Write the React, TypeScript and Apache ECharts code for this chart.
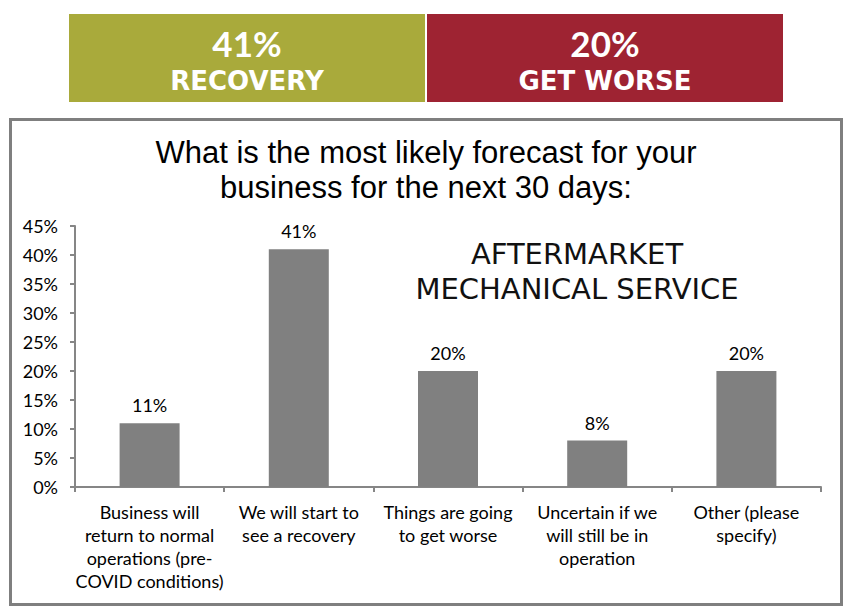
import React, { useEffect, useRef } from "react";
import * as echarts from "echarts";

const categories = [
  "Business will\nreturn to normal\noperations (pre-\nCOVID conditions)",
  "We will start to\nsee a recovery",
  "Things are going\nto get worse",
  "Uncertain if we\nwill still be in\noperation",
  "Other (please\nspecify)",
];
const values = [11, 41, 20, 8, 20];
const yTicks = { min: 0, max: 45, interval: 5 };
const titleLines = ["What is the most likely forecast for your", "business for the next 30 days:"];
const subtitleLines = ["AFTERMARKET", "MECHANICAL SERVICE"];
const banners = [
  { value: "41%", label: "RECOVERY", color: "#A9AA3B" },
  { value: "20%", label: "GET WORSE", color: "#9E2332" },
];

export default function App() {
  const ref = useRef<HTMLDivElement>(null);
  useEffect(() => {
    if (!ref.current) return;
    const chart = echarts.init(ref.current, undefined, { renderer: "svg" });
    const bannerGraphics: any[] = [];
    banners.forEach((b, i) => {
      const x = 69 + i * 358;
      bannerGraphics.push({
        type: "rect",
        shape: { x, y: 14, width: 356, height: 88 },
        style: { fill: b.color },
      });
      bannerGraphics.push({
        type: "text",
        x: x + 178,
        y: 43,
        style: {
          text: b.value,
          fill: "#fff",
          font: "bold 35px Lato",
          textAlign: "center",
          textVerticalAlign: "middle",
        },
      });
      bannerGraphics.push({
        type: "text",
        x: x + 178,
        y: 81,
        style: {
          text: b.label,
          fill: "#fff",
          font: "bold 26px 'DejaVu Sans'",
          textAlign: "center",
          textVerticalAlign: "middle",
        },
      });
    });
    chart.setOption({
      animation: false,
      backgroundColor: "#ffffff",
      grid: { left: 75, right: 41, top: 226, bottom: 126 },
      xAxis: {
        type: "category",
        data: categories,
        axisLine: { lineStyle: { color: "#868686", width: 2 } },
        axisTick: { show: true, length: 5, lineStyle: { color: "#868686", width: 2 } },
        axisLabel: {
          color: "#000",
          fontFamily: "Lato",
          fontSize: 18,
          lineHeight: 23,
          margin: 13,
          interval: 0,
        },
      },
      yAxis: {
        type: "value",
        min: yTicks.min,
        max: yTicks.max,
        interval: yTicks.interval,
        splitLine: { show: false },
        axisLine: { show: true, lineStyle: { color: "#868686", width: 2 } },
        axisTick: { show: true, length: 5, lineStyle: { color: "#868686", width: 2 } },
        axisLabel: {
          formatter: "{value}%",
          color: "#000",
          fontFamily: "Lato",
          fontSize: 18,
          margin: 17,
        },
      },
      series: [
        {
          type: "bar",
          data: values,
          barWidth: 60,
          itemStyle: { color: "#808080" },
          label: {
            show: true,
            position: "top",
            distance: 9,
            formatter: "{c}%",
            color: "#000",
            fontFamily: "Lato",
            fontSize: 18,
          },
        },
      ],
      graphic: [
        ...bannerGraphics,
        {
          type: "rect",
          shape: { x: 10.5, y: 119.5, width: 831, height: 485 },
          style: { fill: "none", stroke: "#7F7F7F", lineWidth: 3 },
        },
        ...titleLines.map((t, i) => ({
          type: "text",
          x: 426,
          y: 152 + i * 35,
          style: {
            text: t,
            fill: "#000",
            font: "31px 'Liberation Sans'",
            textAlign: "center",
            textVerticalAlign: "middle",
          },
        })),
        ...subtitleLines.map((t, i) => ({
          type: "text",
          x: 577,
          y: 254 + i * 35,
          style: {
            text: t,
            fill: "#111",
            font: "29px 'DejaVu Sans'",
            textAlign: "center",
            textVerticalAlign: "middle",
          },
        })),
      ],
    });
    return () => chart.dispose();
  }, []);
  return (
    <div
      ref={ref}
      style={{ position: "fixed", left: 0, top: 0, width: 862, height: 613 }}
    />
  );
}
